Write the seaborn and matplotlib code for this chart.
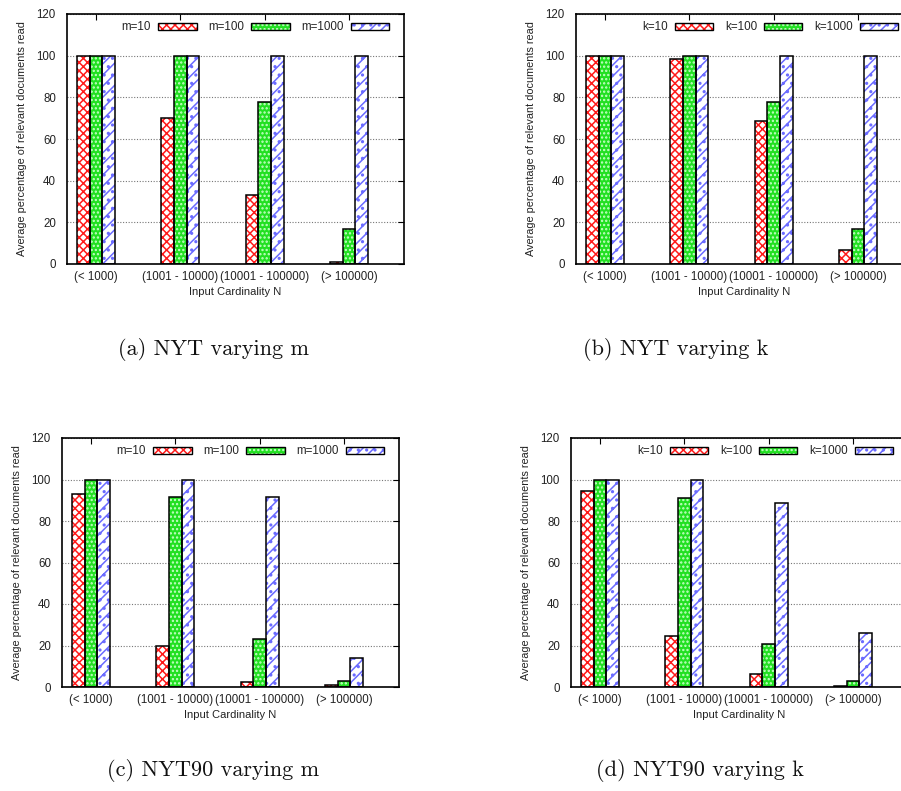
import numpy as np
import pandas as pd
import matplotlib
matplotlib.use("Agg")
import matplotlib.pyplot as plt
import seaborn as sns
from matplotlib.patches import Rectangle, Patch
from matplotlib.legend_handler import HandlerTuple

# ---------------- data ----------------
categories = ["(< 1000)", "(1001 - 10000)", "(10001 - 100000)", "(> 100000)"]

m_series = ["m=10", "m=100", "m=1000"]
k_series = ["k=10", "k=100", "k=1000"]

nyt_m_10 = [100, 70, 33, 1]
nyt_m_100 = [100, 100, 78, 17]
nyt_m_1000 = [100, 100, 100, 100]

nyt_k_10 = [100, 98.5, 68.5, 6.5]
nyt_k_100 = [100, 100, 78, 17]
nyt_k_1000 = [100, 100, 100, 100]

nyt90_m_10 = [92.8, 19.6, 2.3, 1.1]
nyt90_m_100 = [100, 91.8, 23.3, 3.1]
nyt90_m_1000 = [100, 100, 91.8, 14.2]

nyt90_k_10 = [94.6, 24.8, 6.1, 0.5]
nyt90_k_100 = [100, 90.9, 20.9, 3.1]
nyt90_k_1000 = [100, 100, 88.5, 26.2]

captions = ["(a) NYT varying m", "(b) NYT varying k",
            "(c) NYT90 varying m", "(d) NYT90 varying k"]
xlabel = "Input Cardinality N"
ylabel = "Average percentage of relevant documents read"
yticks = [0, 20, 40, 60, 80, 100, 120]

panels = [
    (m_series, [nyt_m_10, nyt_m_100, nyt_m_1000]),
    (k_series, [nyt_k_10, nyt_k_100, nyt_k_1000]),
    (m_series, [nyt90_m_10, nyt90_m_100, nyt90_m_1000]),
    (k_series, [nyt90_k_10, nyt90_k_100, nyt90_k_1000]),
]

# ---------------- style ----------------
sns.set_theme(style="white")
plt.rcParams["font.family"] = ["Liberation Sans", "DejaVu Sans"]
plt.rcParams["hatch.linewidth"] = 1.1

styles = [
    dict(facecolor="white", hatchcolor="#ff1a1a", hatch="xxxx"),
    dict(facecolor="#22e022", hatchcolor="#c8ffc8", hatch="...."),
    dict(facecolor="white", hatchcolor="#6b6bff", hatch="///.."),
]

W, H = 901, 791
fig = plt.figure(figsize=(W / 100, H / 100), dpi=100)

# axes rectangles in pixels: left, top, right, bottom
rects_px = [
    (67, 14, 404, 264),
    (576, 14, 913, 264),
    (62, 438, 399, 687),
    (571, 438, 908, 687),
]
caption_pos = [(214, 349), (676, 349), (213, 770), (700, 770)]

for idx, ((series, values), (l, t, r, b)) in enumerate(zip(panels, rects_px)):
    ax = fig.add_axes([l / W, 1 - b / H, (r - l) / W, (b - t) / H])
    df = pd.DataFrame({
        "cat": np.repeat([categories], len(series), axis=0).ravel(),
        "series": np.repeat(series, len(categories)),
        "value": np.concatenate(values),
    })
    sns.barplot(data=df, x="cat", y="value", hue="series", order=categories,
                hue_order=series, width=0.45, dodge=True, ax=ax, legend=False,
                errorbar=None, saturation=1.0)
    handles = []
    for cont, st in zip(ax.containers, styles):
        for bar in cont:
            bar.set_facecolor(st["facecolor"])
            bar.set_edgecolor(st["hatchcolor"])
            bar.set_hatch(st["hatch"])
            bar.set_linewidth(0)
            bar.set_zorder(2)
            ax.add_patch(Rectangle(bar.get_xy(), bar.get_width(), bar.get_height(),
                                   fill=False, edgecolor="black", linewidth=1.1,
                                   zorder=3))
        hp = Patch(facecolor=st["facecolor"], edgecolor=st["hatchcolor"],
                   hatch=st["hatch"], linewidth=0)
        op = Patch(facecolor="none", edgecolor="black", linewidth=1.0)
        handles.append((hp, op))

    ax.set_xlim(-0.345, 3.65)
    ax.set_ylim(0, 120)
    ax.set_yticks(yticks)
    ax.set_xticks(range(len(categories)))
    ax.set_xticklabels(categories)
    ax.yaxis.grid(True, color="#777777", linestyle=(0, (1, 1.5)), linewidth=0.8)
    ax.set_axisbelow(True)
    ax.tick_params(axis="both", direction="in", length=4, width=0.8,
                   top=True, right=True, labelsize=8.3, colors="black",
                   labelcolor="#222222")
    ax.tick_params(axis="y", pad=8)
    ax.tick_params(axis="x", pad=5)
    for s in ax.spines.values():
        s.set_color("black")
        s.set_linewidth(1.2)
        s.set_visible(True)
    ax.set_xlabel(xlabel, fontsize=8.0, labelpad=3, color="#222222")
    ax.set_ylabel(ylabel, fontsize=7.8, labelpad=7, color="#222222")

    ax.legend(handles, series, handler_map={tuple: HandlerTuple(ndivide=1)},
              loc="upper right", bbox_to_anchor=(0.97, 0.99), ncol=3,
              frameon=False, markerfirst=False, fontsize=8.4,
              handlelength=3.3, handleheight=0.55, handletextpad=0.6,
              columnspacing=1.0, borderaxespad=0, borderpad=0.4)

    cx, cy = caption_pos[idx]
    fig.text(cx / W, 1 - cy / H, captions[idx], ha="center", va="center",
             fontsize=16, family=["cmr10", "DejaVu Serif"], color="#111111")

fig.savefig("out.png", dpi=100)
